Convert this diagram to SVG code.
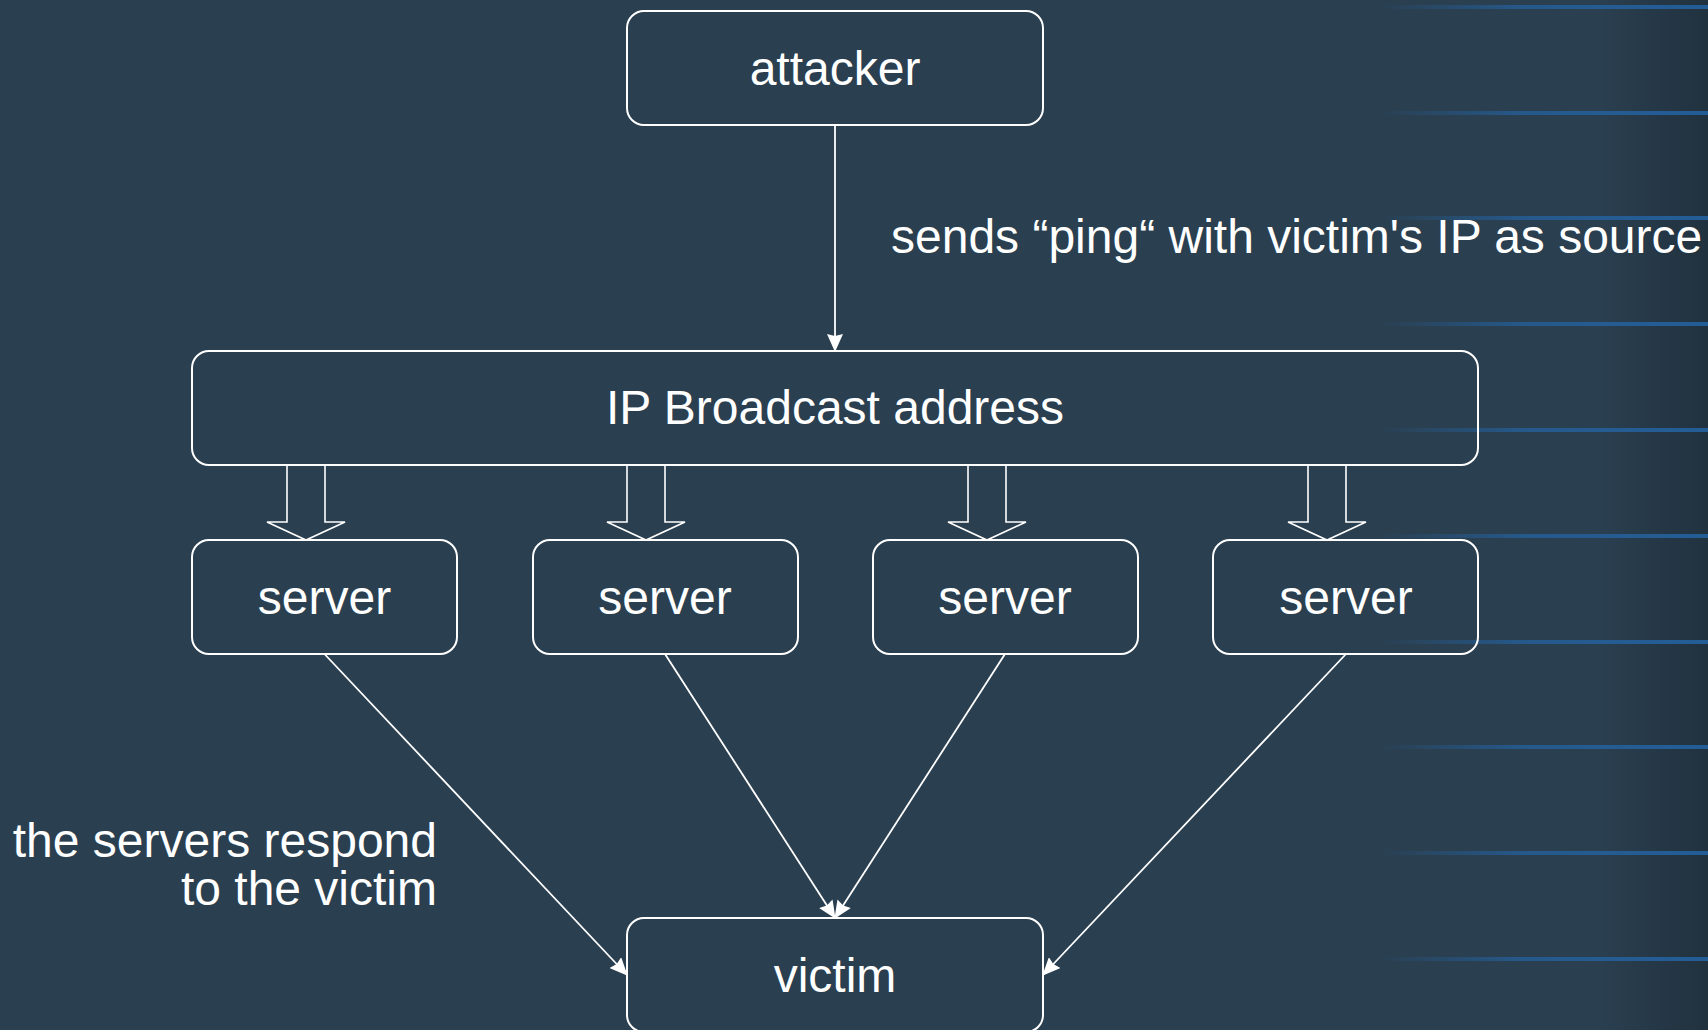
<svg xmlns="http://www.w3.org/2000/svg" width="1708" height="1030" viewBox="0 0 1708 1030">
  <defs>
    <linearGradient id="edgeShade" x1="0" y1="0" x2="1" y2="0">
      <stop offset="0" stop-color="#1e2d39" stop-opacity="0"/>
      <stop offset="1" stop-color="#1e2d39" stop-opacity="0.75"/>
    </linearGradient>
    <linearGradient id="stripe" x1="1378" y1="0" x2="1708" y2="0" gradientUnits="userSpaceOnUse">
      <stop offset="0" stop-color="#2462a0" stop-opacity="0"/>
      <stop offset="0.45" stop-color="#2462a0" stop-opacity="0.75"/>
      <stop offset="1" stop-color="#2462a0" stop-opacity="0.9"/>
    </linearGradient>
    <marker id="arrow" viewBox="0 0 18 16" refX="17" refY="8" markerWidth="18" markerHeight="16" markerUnits="userSpaceOnUse" orient="auto">
      <path d="M0,0 L18,8 L0,16 L2,8 Z" fill="#ffffff"/>
    </marker>
    <style>
      .box { fill: none; stroke: #ffffff; stroke-width: 2; }
      .lbl { font-family: "Liberation Sans", Arial, sans-serif; font-size: 48px; fill: #ffffff; }
      .mid { text-anchor: middle; }
      .end { text-anchor: end; }
      .edge { fill: none; stroke: #ffffff; stroke-width: 1.8; marker-end: url(#arrow); }
      .block { fill: none; stroke: #ffffff; stroke-width: 1.6; stroke-linejoin: miter; }
    </style>
  </defs>

  <!-- backdrop -->
  <rect x="0" y="0" width="1708" height="1030" fill="#2a3f50"/>
  <rect x="1600" y="0" width="108" height="1030" fill="url(#edgeShade)"/>
  <g id="stripes" fill="url(#stripe)">
    <rect x="1378" y="5" width="330" height="4"/>
    <rect x="1378" y="111" width="330" height="4"/>
    <rect x="1378" y="216" width="330" height="4"/>
    <rect x="1378" y="322" width="330" height="4"/>
    <rect x="1378" y="428" width="330" height="4"/>
    <rect x="1378" y="534" width="330" height="4"/>
    <rect x="1378" y="640" width="330" height="4"/>
    <rect x="1378" y="745" width="330" height="4"/>
    <rect x="1378" y="851" width="330" height="4"/>
    <rect x="1378" y="957" width="330" height="4"/>
  </g>

  <!-- connectors -->
  <g id="connectors">
    <line class="edge" x1="835" y1="125" x2="835" y2="351"/>
    <line class="edge" x1="324.5" y1="654" x2="627" y2="975"/>
    <line class="edge" x1="665" y1="654" x2="835" y2="918"/>
    <line class="edge" x1="1005" y1="654" x2="835" y2="918"/>
    <line class="edge" x1="1346" y1="654" x2="1043" y2="975"/>
    <polygon class="block" points="287,465 325,465 325,522 345,522 306,540 267,522 287,522"/>
    <polygon class="block" points="627,465 665,465 665,522 685,522 646,540 607,522 627,522"/>
    <polygon class="block" points="968,465 1006,465 1006,522 1026,522 987,540 948,522 968,522"/>
    <polygon class="block" points="1308,465 1346,465 1346,522 1366,522 1327,540 1288,522 1308,522"/>
  </g>

  <!-- edge labels -->
  <text id="label-ping" class="lbl" x="891" y="253">sends “ping“ with victim's IP as source</text>
  <g id="label-respond">
    <text class="lbl end" x="437" y="857">the servers respond</text>
    <text class="lbl end" x="437" y="905">to the victim</text>
  </g>

  <!-- nodes -->
  <g id="attacker">
    <rect class="box" x="627" y="11" width="416" height="114" rx="17" ry="17"/>
    <text class="lbl mid" x="835" y="85">attacker</text>
  </g>
  <g id="broadcast">
    <rect class="box" x="192" y="351" width="1286" height="114" rx="17" ry="17"/>
    <text class="lbl mid" x="835" y="424">IP Broadcast address</text>
  </g>
  <g id="server-1">
    <rect class="box" x="192" y="540" width="265" height="114" rx="17" ry="17"/>
    <text class="lbl mid" x="324.5" y="614">server</text>
  </g>
  <g id="server-2">
    <rect class="box" x="533" y="540" width="265" height="114" rx="17" ry="17"/>
    <text class="lbl mid" x="665" y="614">server</text>
  </g>
  <g id="server-3">
    <rect class="box" x="873" y="540" width="265" height="114" rx="17" ry="17"/>
    <text class="lbl mid" x="1005" y="614">server</text>
  </g>
  <g id="server-4">
    <rect class="box" x="1213" y="540" width="265" height="114" rx="17" ry="17"/>
    <text class="lbl mid" x="1346" y="614">server</text>
  </g>
  <g id="victim">
    <rect class="box" x="627" y="918" width="416" height="114" rx="17" ry="17"/>
    <text class="lbl mid" x="835" y="992">victim</text>
  </g>
</svg>
